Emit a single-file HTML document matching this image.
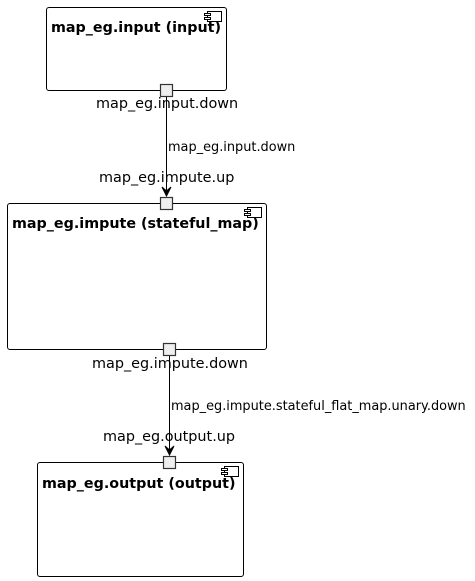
<!DOCTYPE html>
<html><head><meta charset="utf-8"><style>
html,body{margin:0;padding:0;background:#fff;width:475px;height:581px;overflow:hidden}
text{font-family:"DejaVu Sans","Liberation Sans",sans-serif;fill:#000}
.t{font-weight:bold;font-size:14.3px}
.p{font-size:14.4px}
.e{font-size:12.9px}
</style></head><body>
<svg width="475" height="581" xmlns="http://www.w3.org/2000/svg">
<defs>
<g id="ic"><rect x="0" y="0" width="14" height="10" fill="#fff" stroke="#000" stroke-width="1"/><rect x="-3" y="2" width="6" height="2" fill="#fff" stroke="#000" stroke-width="1"/><rect x="-3" y="6" width="6" height="2" fill="#fff" stroke="#000" stroke-width="1"/></g>
</defs>
<rect x="46.5" y="7.5" width="180" height="83" rx="2.5" fill="#fff" stroke="#000"/>
<use href="#ic" x="207.5" y="11.5"/>
<text class="t" x="51" y="32">map_eg.input (input)</text>
<rect x="7.5" y="203.5" width="259" height="146" rx="2.5" fill="#fff" stroke="#000"/>
<use href="#ic" x="247.5" y="207.5"/>
<text class="t" x="12" y="228">map_eg.impute (stateful_map)</text>
<rect x="37.5" y="462.5" width="206" height="114" rx="2.5" fill="#fff" stroke="#000"/>
<use href="#ic" x="224.5" y="466.5"/>
<text class="t" x="42" y="488">map_eg.output (output)</text>
<line x1="166.5" y1="96" x2="166.5" y2="196" stroke="#000"/>
<path d="M162,187 L166.5,196 L171,187 L166.5,191 Z" fill="#000" stroke="#000"/>
<line x1="169.5" y1="355" x2="169.5" y2="455" stroke="#000"/>
<path d="M165,446 L169.5,455 L174,446 L169.5,450 Z" fill="#000" stroke="#000"/>
<rect x="160.5" y="84.5" width="12" height="12" fill="#eee" stroke="#333" stroke-width="1.2"/>
<rect x="160.5" y="197.5" width="12" height="12" fill="#eee" stroke="#333" stroke-width="1.2"/>
<rect x="163.5" y="343.5" width="12" height="12" fill="#eee" stroke="#333" stroke-width="1.2"/>
<rect x="163.5" y="456.5" width="12" height="12" fill="#eee" stroke="#333" stroke-width="1.2"/>
<text class="p" x="96" y="108">map_eg.input.down</text>
<text class="e" x="168" y="151">map_eg.input.down</text>
<text class="p" x="99" y="182">map_eg.impute.up</text>
<text class="p" x="92" y="368">map_eg.impute.down</text>
<text class="e" x="171" y="410">map_eg.impute.stateful_flat_map.unary.down</text>
<text class="p" x="103" y="441">map_eg.output.up</text>
</svg>
</body></html>
